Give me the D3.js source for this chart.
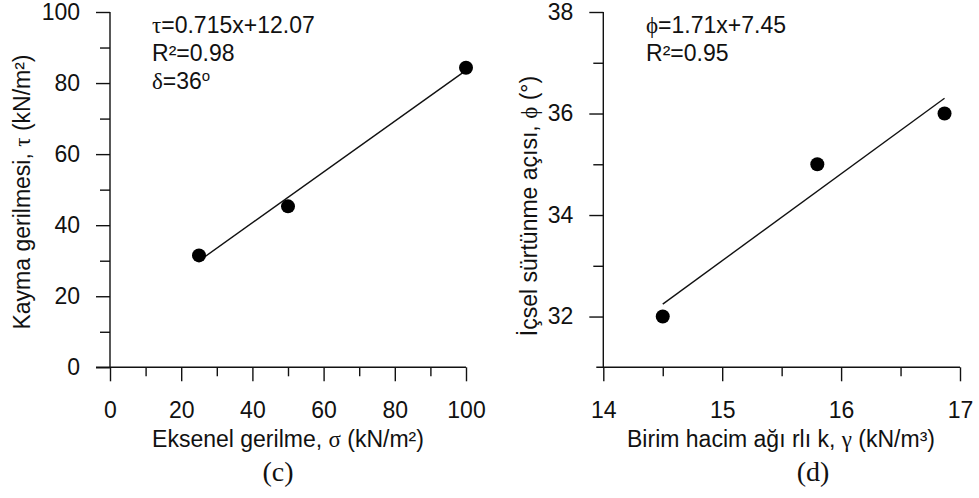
<!DOCTYPE html>
<html>
<head>
<meta charset="utf-8">
<script src="https://cdn.jsdelivr.net/npm/d3@7"></script>
<style>
  body { margin: 0; background: #fff; }
  text { font-family: "Liberation Sans", Arial, sans-serif; fill: #111; }
  .greek { font-family: "Liberation Serif", "Times New Roman", serif; }
  .panel { font-family: "Liberation Serif", "Times New Roman", serif; }
</style>
</head>
<body>
<script>
// panel (c): shear stress vs axial stress
var sigma = [25, 50, 100];
var tau = [31.5, 45.3, 84.3];
var fitC = [[25, 29.95], [100, 83.57]];
var ticksCx = [0, 20, 40, 60, 80, 100];
var minorCx = [10, 30, 50, 70, 90];
var ticksCy = [0, 20, 40, 60, 80, 100];
var minorCy = [10, 30, 50, 70, 90];

// panel (d): friction angle vs unit weight
var gamma = [14.5, 15.8, 16.87];
var phi = [32, 35, 36];
var fitD = [[14.5, 32.245], [16.87, 36.3]];
var ticksDx = [14, 15, 16, 17];
var minorDx = [14.5, 15.5, 16.5];
var ticksDy = [32, 34, 36, 38];
var minorDy = [33, 35, 37];

var width = 979, height = 498;
var fs = 23;

var svg = d3.select("body").append("svg")
    .attr("width", width)
    .attr("height", height);

function draw_panel(p){
    var x = d3.scaleLinear().domain(p.xdom).range([p.x0, p.x1]);
    var y = d3.scaleLinear().domain(p.ydom).range([367.3, 12]);
    var g = svg.append("g");
    var fmt = d3.format("d");

    // minor ticks first
    g.append("g")
        .attr("transform", "translate(0," + y(p.ydom[0]) + ")")
        .call(d3.axisBottom(x).tickValues(p.minorX).tickSize(9).tickFormat(""))
        .call(function(s){ s.select(".domain").remove(); });
    g.append("g")
        .attr("transform", "translate(" + x(p.xdom[0]) + ",0)")
        .call(d3.axisLeft(y).tickValues(p.minorY).tickSize(10).tickFormat(""))
        .call(function(s){ s.select(".domain").remove(); });

    var xa = g.append("g")
        .attr("transform", "translate(0," + y(p.ydom[0]) + ")")
        .call(d3.axisBottom(x).tickValues(p.ticksX).tickFormat(fmt)
              .tickSize(14).tickSizeOuter(0).tickPadding(20));
    xa.select(".domain").remove();
    xa.selectAll("text").attr("dy", "0.71em");

    var ya = g.append("g")
        .attr("transform", "translate(" + x(p.xdom[0]) + ",0)")
        .call(d3.axisLeft(y).tickValues(p.ticksY).tickFormat(fmt)
              .tickSize(14).tickSizeOuter(0).tickPadding(16));
    ya.select(".domain").remove();

    g.selectAll(".tick line").attr("stroke", "#111").attr("stroke-width", 1.4);
    g.selectAll(".tick text")
        .style("font-family", "Liberation Sans, Arial, sans-serif")
        .style("font-size", fs + "px")
        .attr("fill", "#111");

    // axis lines
    g.append("line")
        .attr("x1", x(p.xdom[0]) - p.ext).attr("x2", x(p.xdom[1]))
        .attr("y1", y(p.ydom[0])).attr("y2", y(p.ydom[0]))
        .attr("stroke", "#111").attr("stroke-width", 1.4);
    g.append("line")
        .attr("x1", x(p.xdom[0])).attr("x2", x(p.xdom[0]))
        .attr("y1", y(p.ydom[0])).attr("y2", y(p.ydom[1]))
        .attr("stroke", "#111").attr("stroke-width", 1.4);

    // fit line
    g.append("path")
        .datum(p.fit)
        .attr("d", d3.line().x(function(d){ return x(d[0]); }).y(function(d){ return y(d[1]); }))
        .attr("stroke", "#111").attr("stroke-width", 1.4).attr("fill", "none");

    // points
    g.selectAll("circle.pt")
        .data(p.xs.map(function(v, i){ return [v, p.ys[i]]; }))
        .enter().append("circle")
        .attr("class", "pt")
        .attr("cx", function(d){ return x(d[0]); })
        .attr("cy", function(d){ return y(d[1]); })
        .attr("r", 7)
        .attr("fill", "#000");

    // equation lines
    p.notes.forEach(function(n, i){
        var t = g.append("text")
            .attr("x", p.noteX)
            .attr("y", 33 + i*28)
            .style("font-size", fs + "px");
        n.forEach(function(part){
            var s = t.append("tspan").text(part[0]);
            if(part[1] == "g") s.attr("class", "greek");
            if(part[1] == "sup") s.style("font-size", "15px").attr("dy", "-8");
        });
    });

    // x label
    var xl = svg.append("text")
        .attr("x", p.xlabX).attr("y", 447)
        .attr("text-anchor", "middle")
        .style("font-size", fs + "px");
    p.xlab.forEach(function(part){
        var s = xl.append("tspan").text(part[0]);
        if(part[1] == "g") s.attr("class", "greek");
    });

    // y label
    var yl = svg.append("text")
        .attr("transform", "translate(" + p.ylabX + "," + p.ylabY + ") rotate(-90)")
        .attr("text-anchor", "middle")
        .style("font-size", fs + "px");
    p.ylab.forEach(function(part){
        var s = yl.append("tspan").text(part[0]);
        if(part[1] == "g") s.attr("class", "greek");
    });

    svg.append("text")
        .attr("class", "panel")
        .attr("x", p.panelX).attr("y", 481)
        .attr("text-anchor", "middle")
        .style("font-size", "28px")
        .text(p.panel);
}

draw_panel({
    xdom: [0, 100], ydom: [0, 100], x0: 110, x1: 466, ext: 14,
    ticksX: ticksCx, minorX: minorCx, ticksY: ticksCy, minorY: minorCy,
    xs: sigma, ys: tau, fit: fitC,
    noteX: 152,
    notes: [
        [["τ", "g"], ["=0.715x+12.07"]],
        [["R"], ["²"], ["=0.98"]],
        [["δ", "g"], ["=36"], ["o", "sup"]]
    ],
    xlab: [["Eksenel gerilme, "], ["σ", "g"], [" (kN/m²)"]],
    xlabX: 288,
    ylab: [["Kayma gerilmesi, "], ["τ", "g"], [" (kN/m²)"]],
    ylabX: 30, ylabY: 192,
    panel: "(c)", panelX: 278
});

draw_panel({
    xdom: [14, 17], ydom: [31, 38], x0: 603.3, x1: 960, ext: 7,
    ticksX: ticksDx, minorX: minorDx, ticksY: ticksDy, minorY: minorDy,
    xs: gamma, ys: phi, fit: fitD,
    noteX: 646,
    notes: [
        [["ϕ", "g"], ["=1.71x+7.45"]],
        [["R"], ["²"], ["=0.95"]]
    ],
    xlab: [["Birim hacim ağı rlı k, "], ["γ", "g"], [" (kN/m³)"]],
    xlabX: 781,
    ylab: [["İçsel sürtünme açısı, "], ["ϕ", "g"], [" (°)"]],
    ylabX: 537, ylabY: 206,
    panel: "(d)", panelX: 813
});
</script>
</body>
</html>
